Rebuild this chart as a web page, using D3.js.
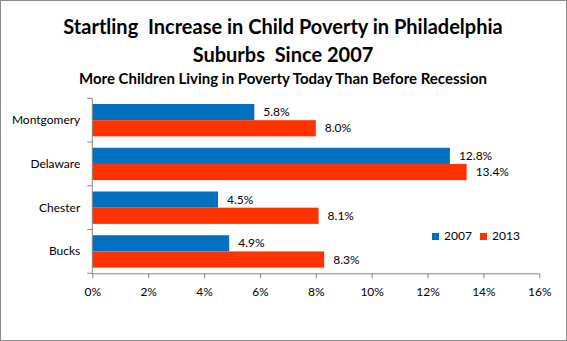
<!DOCTYPE html>
<html>
<head>
<meta charset="utf-8">
<script src="https://cdn.jsdelivr.net/npm/d3@7"></script>
<style>
  html, body { margin: 0; padding: 0; background: #fff; }
  svg { display: block; font-family: Lato, "Open Sans", sans-serif; }
  .title { white-space: pre; }
</style>
</head>
<body>
<svg id="chart" width="567" height="341"></svg>
<script>
// Child poverty rates by suburban county
const counties = ["Montgomery", "Delaware", "Chester", "Bucks"];
const years = ["2007", "2013"];
const rate2007 = [5.8, 12.8, 4.5, 4.9];
const rate2013 = [8.0, 13.4, 8.1, 8.3];
const xTicks = [0, 2, 4, 6, 8, 10, 12, 14, 16];
const colors = ["#0070C0", "#FF3300"];

const titleLines = ["Startling  Increase in Child Poverty in Philadelphia", "Suburbs  Since 2007"];
const subtitle = "More Children Living in Poverty Today Than Before Recession";

const svg = d3.select("#chart");
const W = 567, H = 341;

// outer frame
svg.append("rect")
  .attr("x", 0.5).attr("y", 0.5)
  .attr("width", W - 1).attr("height", H - 1)
  .attr("fill", "#fff").attr("stroke", "#8c8c8c");

// titles
svg.append("text").attr("class", "title").attr("x", 283).attr("y", 34)
  .attr("text-anchor", "middle").attr("font-weight", 700).attr("font-size", 20)
  .attr("fill", "#000").text(titleLines[0]);
svg.append("text").attr("class", "title").attr("x", 283).attr("y", 62)
  .attr("text-anchor", "middle").attr("font-weight", 700).attr("font-size", 20)
  .attr("fill", "#000").text(titleLines[1]);
svg.append("text").attr("x", 283).attr("y", 84)
  .attr("text-anchor", "middle").attr("font-weight", 700).attr("font-size", 15)
  .attr("fill", "#000").text(subtitle);

const plot = { left: 92.3, right: 539.3, top: 98.3, bottom: 273.3 };

const x = d3.scaleLinear().domain([0, 16]).range([plot.left, plot.right]);
const y = d3.scaleBand().domain(counties).range([plot.top, plot.bottom]).paddingInner(0.26).paddingOuter(0.13);
const ySub = d3.scaleBand().domain(years).range([0, y.bandwidth()]);

const rows = counties.map((c, i) => ({ county: c, values: [rate2007[i], rate2013[i]] }));

// bars with value labels
const g = svg.append("g");
rows.forEach(r => {
  r.values.forEach((v, j) => {
    g.append("rect")
      .attr("x", x(0))
      .attr("y", y(r.county) + ySub(years[j]))
      .attr("width", x(v) - x(0))
      .attr("height", ySub.bandwidth())
      .attr("fill", colors[j]);
    g.append("text")
      .attr("x", x(v) + 9)
      .attr("y", y(r.county) + ySub(years[j]) + ySub.bandwidth() / 2 + 1)
      .attr("dominant-baseline", "middle")
      .attr("font-size", 12).attr("fill", "#000")
      .text(v.toFixed(1) + "%");
  });
});

// x axis
const xAxis = d3.axisBottom(x).tickValues(xTicks).tickFormat(d => d + "%").tickSize(5).tickPadding(9);
const gx = svg.append("g").attr("transform", `translate(0,${plot.bottom})`).call(xAxis);
gx.select(".domain").attr("stroke", "#868686").attr("d", `M${plot.left},0.5H${plot.right}`);
gx.selectAll(".tick line").attr("stroke", "#868686");
gx.selectAll(".tick text").attr("font-size", 12).attr("fill", "#000").attr("font-family", "Lato, sans-serif");

// y axis with ticks at category boundaries
const gy = svg.append("g").attr("transform", `translate(${plot.left},0)`);
gy.append("line").attr("x1", 0).attr("x2", 0).attr("y1", plot.top).attr("y2", plot.bottom).attr("stroke", "#868686");
d3.range(counties.length + 1).forEach(i => {
  const yy = plot.top + i * (plot.bottom - plot.top) / counties.length;
  gy.append("line").attr("x1", -5).attr("x2", 0).attr("y1", yy).attr("y2", yy).attr("stroke", "#868686");
});
counties.forEach(c => {
  gy.append("text")
    .attr("x", -12)
    .attr("y", y(c) + y.bandwidth() / 2 + 1)
    .attr("text-anchor", "end").attr("dominant-baseline", "middle")
    .attr("font-size", 12).attr("fill", "#000").text(c);
});

// legend
const legend = svg.append("g").attr("transform", "translate(432,233)");
years.forEach((yr, i) => {
  const lg = legend.append("g").attr("transform", `translate(${i * 48},0)`);
  lg.append("rect").attr("width", 7).attr("height", 7).attr("fill", colors[i]);
  lg.append("text").attr("x", 12).attr("y", 4).attr("dominant-baseline", "middle")
    .attr("font-size", 12).attr("fill", "#000").text(yr);
});
</script>
</body>
</html>
